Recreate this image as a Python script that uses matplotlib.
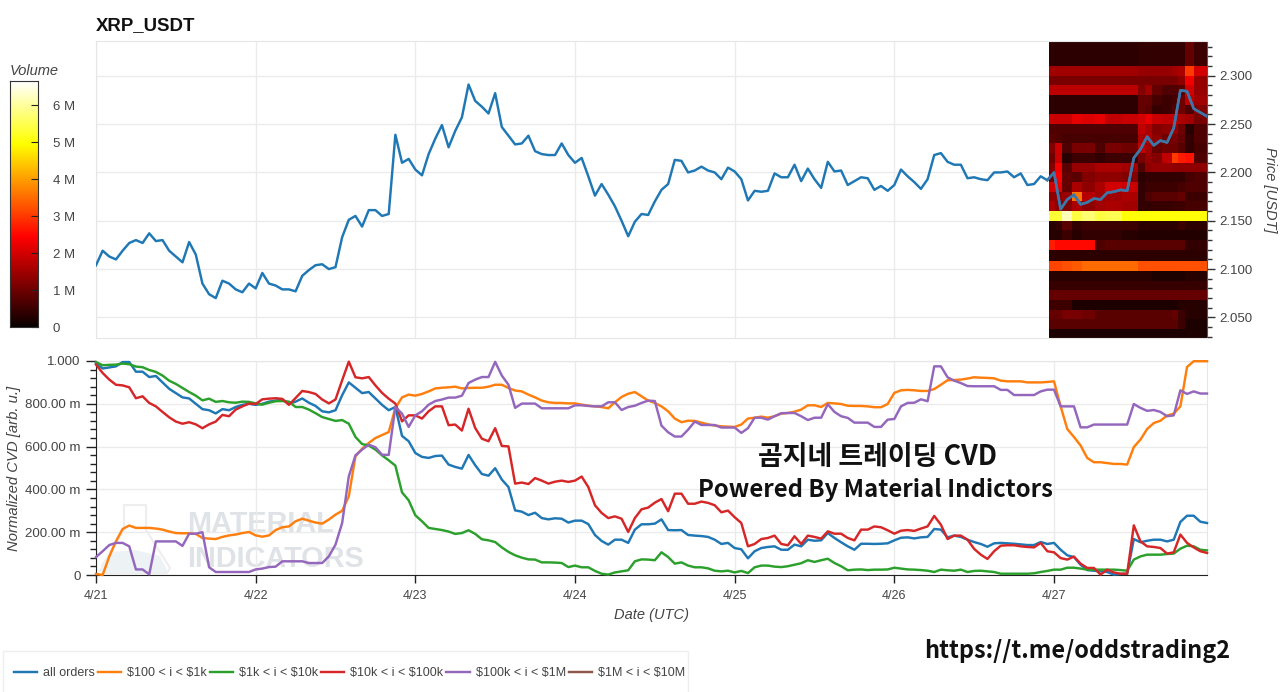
import numpy as np
import matplotlib
matplotlib.use("Agg")
import matplotlib.pyplot as plt
from matplotlib.patches import Polygon, Rectangle
from matplotlib.ticker import FuncFormatter, MultipleLocator, FixedLocator

plt.rcParams['font.family'] = ['Liberation Sans', 'DejaVu Sans']
plt.rcParams['text.parse_math'] = False

W, H = 1280, 692

price = [2.104,2.119,2.113,2.110,2.119,2.127,2.130,2.127,2.137,2.129,2.130,2.119,2.113,2.107,2.128,2.115,2.085,2.074,2.070,2.088,2.085,2.079,2.076,2.085,
2.080,2.096,2.085,2.083,2.079,2.079,2.077,2.093,2.099,2.104,2.105,2.100,2.102,2.133,2.151,2.155,2.144,2.161,2.161,2.155,2.157,2.239,2.210,2.214,
2.203,2.197,2.219,2.235,2.249,2.226,2.243,2.257,2.291,2.274,2.268,2.261,2.282,2.247,2.238,2.229,2.230,2.238,2.222,2.219,2.218,2.218,2.230,2.218,
2.210,2.215,2.196,2.176,2.188,2.177,2.165,2.150,2.134,2.149,2.157,2.156,2.170,2.182,2.188,2.213,2.212,2.200,2.202,2.206,2.202,2.200,2.193,2.205,
2.201,2.193,2.171,2.181,2.180,2.181,2.199,2.195,2.195,2.208,2.191,2.204,2.193,2.184,2.211,2.201,2.202,2.187,2.191,2.195,2.194,2.182,2.186,2.181,
2.187,2.203,2.196,2.190,2.183,2.193,2.218,2.220,2.211,2.208,2.208,2.194,2.195,2.193,2.192,2.200,2.200,2.201,2.195,2.199,2.187,2.188,2.196,2.192,
2.200,2.162,2.172,2.177,2.167,2.169,2.173,2.172,2.179,2.180,2.182,2.181,2.215,2.224,2.237,2.228,2.233,2.231,2.246,2.285,2.284,2.266,2.262,2.258]

all_orders = [.99,.965,.97,.975,.995,.995,.95,.95,.925,.93,.90,.87,.85,.83,.825,.80,.775,.77,.755,.775,.77,.785,.795,.80,
.795,.80,.81,.815,.82,.80,.81,.825,.805,.79,.765,.76,.77,.84,.90,.875,.85,.855,.825,.795,.77,.785,.65,.625,
.57,.552,.547,.556,.558,.516,.505,.497,.561,.513,.472,.464,.499,.446,.411,.302,.296,.280,.291,.266,.260,.265,.263,.245,
.254,.254,.238,.187,.159,.142,.165,.165,.150,.212,.237,.237,.240,.260,.210,.209,.210,.187,.184,.182,.178,.165,.145,.150,
.126,.120,.078,.111,.126,.131,.134,.118,.118,.142,.134,.165,.160,.162,.196,.173,.153,.134,.118,.146,.146,.145,.146,.148,
.162,.174,.176,.171,.176,.178,.215,.212,.176,.184,.178,.165,.154,.145,.132,.148,.150,.148,.146,.143,.140,.140,.154,.145,
.150,.118,.092,.084,.048,.023,.020,.017,.014,.002,.005,.006,.168,.153,.160,.165,.165,.157,.165,.248,.277,.277,.249,.243]

band_100_1k = [.005,0,.087,.157,.215,.231,.22,.22,.22,.217,.212,.203,.196,.195,.195,.192,.173,.17,.168,.178,.185,.189,.196,.201,
.185,.179,.185,.21,.223,.227,.251,.263,.254,.245,.24,.259,.282,.30,.368,.555,.59,.617,.64,.654,.668,.78,.83,.843,
.838,.846,.858,.872,.875,.877,.88,.872,.874,.875,.875,.88,.889,.889,.874,.862,.858,.843,.83,.815,.807,.804,.804,.802,
.802,.796,.791,.788,.785,.779,.807,.832,.847,.855,.835,.815,.804,.788,.765,.731,.714,.721,.72,.712,.704,.698,.695,.693,
.692,.703,.731,.735,.74,.735,.742,.754,.757,.763,.773,.793,.793,.785,.804,.802,.799,.791,.79,.79,.788,.784,.784,.799,
.851,.863,.865,.863,.86,.86,.869,.889,.91,.911,.913,.918,.924,.922,.921,.919,.908,.905,.905,.905,.90,.90,.90,.902,
.905,.788,.682,.645,.605,.547,.527,.527,.523,.519,.519,.516,.598,.633,.682,.71,.721,.745,.754,.788,.972,.999,.999,.999]

band_1k_10k = [.995,.98,.982,.983,.988,.985,.974,.971,.958,.949,.932,.908,.893,.874,.855,.838,.816,.824,.809,.813,.807,.805,.81,.809,
.802,.796,.805,.812,.813,.81,.785,.785,.773,.756,.738,.729,.72,.724,.707,.645,.612,.605,.586,.559,.536,.511,.386,.349,
.279,.251,.22,.215,.21,.203,.192,.196,.209,.192,.167,.162,.154,.129,.108,.092,.081,.073,.072,.059,.059,.058,.056,.037,
.044,.036,.036,.019,.006,.002,.012,.017,.022,.064,.073,.072,.069,.106,.084,.053,.059,.044,.036,.036,.031,.02,.017,.02,
.012,.019,.009,.036,.044,.044,.039,.037,.041,.048,.055,.069,.061,.069,.076,.056,.041,.022,.025,.026,.023,.025,.025,.026,
.034,.03,.026,.025,.023,.02,.014,.025,.022,.02,.025,.014,.019,.02,.017,.014,.006,.006,.006,.006,.006,.008,.014,.019,
.025,.025,.034,.034,.03,.025,.025,.025,.025,.025,.023,.02,.072,.087,.095,.095,.095,.098,.10,.123,.137,.134,.118,.115]

band_10k_100k = [.983,.944,.913,.889,.886,.877,.826,.835,.804,.788,.762,.737,.717,.707,.714,.704,.686,.704,.717,.748,.742,.773,.788,.801,
.799,.821,.824,.826,.823,.795,.827,.86,.855,.846,.82,.802,.82,.91,.997,.924,.919,.925,.886,.851,.824,.801,.718,.746,
.746,.731,.765,.788,.788,.70,.703,.675,.777,.687,.637,.625,.686,.603,.601,.427,.432,.425,.453,.441,.427,.436,.441,.435,
.441,.46,.411,.326,.29,.266,.274,.263,.201,.266,.307,.315,.338,.355,.298,.38,.38,.333,.333,.343,.337,.326,.293,.301,
.27,.243,.134,.145,.168,.173,.184,.145,.139,.181,.145,.184,.178,.17,.204,.193,.193,.173,.162,.212,.212,.227,.223,.209,
.193,.207,.21,.206,.217,.227,.276,.235,.168,.184,.184,.165,.122,.095,.075,.111,.137,.139,.139,.134,.131,.129,.15,.111,
.106,.079,.072,.086,.053,.033,.033,.002,.025,.012,.006,.006,.232,.157,.134,.131,.126,.10,.106,.189,.15,.129,.111,.103]

band_100k_1M = [.084,.111,.14,.15,.15,.134,.026,.026,.003,.157,.157,.157,.157,.136,.193,.193,.2,.036,.014,.014,.014,.014,.014,.014,
.026,.03,.037,.039,.064,.064,.064,.064,.056,.056,.056,.087,.142,.243,.461,.559,.586,.609,.597,.562,.561,.785,.754,.692,
.746,.765,.796,.813,.82,.829,.829,.838,.897,.913,.925,.925,.996,.932,.889,.781,.801,.801,.801,.779,.779,.779,.779,.779,
.793,.793,.79,.788,.788,.807,.807,.771,.785,.791,.804,.815,.813,.698,.667,.647,.647,.679,.717,.701,.701,.701,.689,.689,
.689,.664,.686,.735,.735,.726,.742,.756,.757,.757,.742,.724,.735,.735,.798,.762,.742,.734,.712,.712,.712,.692,.692,.726,
.729,.788,.804,.805,.821,.812,.975,.975,.924,.908,.897,.883,.882,.882,.882,.882,.865,.865,.841,.841,.841,.841,.858,.866,
.866,.788,.788,.788,.69,.69,.703,.703,.703,.703,.703,.703,.799,.781,.767,.771,.762,.742,.746,.863,.846,.858,.848,.848]

band_1M_10M = []

series_labels = ['all orders', '$100 < i < $1k', '$1k < i < $10k', '$10k < i < $100k', '$100k < i < $1M', '$1M < i < $10M']
series_colors = ['#1f77b4', '#ff7f0e', '#2ca02c', '#d62728', '#9467bd', '#8c564b']
day_labels = ['4/21', '4/22', '4/23', '4/24', '4/25', '4/26', '4/27']

heat_hours = [143.2,144.2,145.2,146.7,148.2,150.2,151.7,154.2,156.6,157.7,158.7,160.2,161.7,162.7,163.7,165,167]
heat_prices = [2.0287,2.038,2.048,2.058,2.068,2.078,2.088,2.098,2.108,2.12,2.13,2.14,2.15,2.16,2.17,2.18,2.19,2.20,2.21,2.22,2.23,2.24,2.25,2.26,2.27,2.28,2.29,2.30,2.31,2.336]
heat_volume = [  # millions, one row per price band from low to high
 [.2,.2,.2,.2,.2,.2,.2,.2,.2,.2,.2,.2,.2,.2,.2,.2],
 [.8,.8,.8,.8,.8,.8,.8,.8,.8,.8,.8,.8,.8,.5,.2,.2],
 [.9,.9,1.1,1.1,1.0,.8,.8,.8,.8,.8,.8,.8,.9,.5,.3,.3],
 [.5,.5,.5,.2,.2,.2,.2,.2,.2,.2,.2,.2,.2,.3,.3,.3],
 [.9,.9,.9,.9,.9,.9,.9,.9,.9,.9,.9,.9,.9,.9,.9,.9],
 [.45,.45,.45,.45,.45,.45,.45,.45,.45,.45,.45,.45,.45,.45,.45,.45],
 [.3,.3,.3,.3,.3,.3,.3,.3,.3,.3,.2,.2,.2,.2,.3,.3],
 [3.1,3.1,3.2,3.3,3.5,3.5,3.5,3.5,3.2,3.2,3.2,3.2,3.2,3.2,3.2,3.2],
 [.35,.35,.35,.35,.35,.35,.35,.35,.35,.35,.35,.35,.35,.35,.35,.35],
 [2.7,2.5,2.5,2.5,2.5,.7,.8,.8,.8,.8,.8,.8,.8,.8,.4,.4],
 [.3,.3,.5,.3,.4,.4,.4,.3,.25,.25,.25,.25,.25,.25,.25,.25],
 [.3,.4,.8,.4,.5,.5,.5,.5,.35,.35,.35,.35,.35,.5,.35,.35],
 [5.3,5.3,6.2,5.4,5.7,5.4,5.5,5.0,5.0,5.0,5.0,5.0,5.0,5.0,5.0,5.0],
 [1.6,1.3,1.2,1.6,1.3,1.5,1.6,1.5,.4,.4,.45,.45,.5,.5,.6,.6],
 [1.3,1.3,1.4,3.6,1.7,1.5,1.5,1.6,.4,.7,.8,.8,.8,.9,.5,.5],
 [2.0,2.2,.9,1.6,1.3,1.6,2.0,1.9,.4,.5,.5,.5,.5,.6,.7,.7],
 [1.0,2.4,.9,.8,1.2,1.3,1.3,1.2,.35,.4,.4,.4,.4,.4,.6,.7],
 [1.2,2.3,.8,1.4,1.4,1.6,1.6,1.5,.7,1.3,1.4,1.4,1.3,1.3,1.3,1.3],
 [1.0,1.9,.3,.5,.5,.4,.5,.5,1.1,1.4,1.2,1.8,3.0,2.7,2.6,.7],
 [1.2,1.9,.7,1.1,1.1,.7,1.1,1.0,1.8,1.5,.9,1.0,1.0,.8,.4,.6],
 [.8,.7,.6,.6,.6,.6,.6,.6,1.6,1.7,1.3,1.0,1.1,.9,.4,.7],
 [.7,.7,.7,.7,.7,.7,.7,.7,1.8,1.6,1.2,1.3,1.4,1.0,.3,.7],
 [1.9,1.9,1.9,2.2,2.1,2.2,1.8,1.9,2.0,2.2,1.9,1.8,1.8,1.6,1.5,1.1],
 [.35,.35,.35,.35,.35,.35,.35,.35,.9,.8,.45,.5,.7,1.0,.7,1.2],
 [.35,.35,.35,.35,.35,.35,.35,.35,.9,.9,.6,.5,.6,1.0,1.8,1.5],
 [1.75,1.75,1.75,1.75,1.75,1.75,1.75,1.75,1.2,1.5,.9,.7,.7,.8,2.0,1.4],
 [1.1,1.1,1.1,1.1,1.1,1.1,1.1,1.1,1.1,1.1,1.1,1.1,1.1,1.3,2.3,1.4],
 [1.5,1.5,1.5,1.5,1.5,1.5,1.5,1.5,1.4,1.4,1.4,1.4,1.5,1.6,3.0,2.0],
 [.35,.35,.35,.35,.35,.35,.35,.35,.4,.4,.4,.4,.4,.4,.9,.5]]
VMAX = 6.65


def axbox(l, t, r, b):
    return [l / W, 1 - b / H, (r - l) / W, (b - t) / H]


def figxy(pts):
    return [(x / W, 1 - y / H) for x, y in pts]


txt = '#444444'
grid = '#ebebeb'
fig = plt.figure(figsize=(12.8, 6.92), dpi=100, facecolor='white')

hours = np.arange(168)
day_ticks = [24 * i for i in range(7)]

# ---------- watermark (below the axes) ----------
flask = [(124, 505), (146, 505), (146, 530), (170, 568), (167, 573), (106, 573), (102, 566), (124, 530)]
liquid = [(112, 552), (135, 550), (160, 556), (168, 572), (106, 573), (98, 572)]
fig.add_artist(Polygon(figxy(flask), closed=True, transform=fig.transFigure, facecolor='none', edgecolor='#eeeeee', lw=1.5, zorder=-3))
fig.add_artist(Polygon(figxy(liquid), closed=True, transform=fig.transFigure, facecolor='#edf3f4', edgecolor='none', zorder=-3))
for s, y in [('MATERIAL', 524), ('INDICATORS', 559)]:
    fig.text(187 / W, 1 - y / H, s, fontweight='bold', fontsize=20.8, color='#dfe2e6', ha='left', va='center', zorder=-2,
             family='Liberation Sans')

# ---------- price panel ----------
ax1 = fig.add_axes(axbox(96, 41, 1207, 338))
ax1.set_xlim(0, 167)
ax1.set_ylim(2.0287, 2.336)
ax1.grid(True, color=grid, lw=1.0, zorder=0)
ax1.set_axisbelow(True)
ax1.pcolormesh(heat_hours, heat_prices, np.array(heat_volume), cmap='hot', vmin=0, vmax=VMAX, zorder=1, antialiased=False)
ax1.plot(hours, price, color='#1f77b4', lw=1.75, zorder=3, solid_joinstyle='round')
ax1.plot(hours[143:], price[143:], color='#3f76a6', lw=1.9, zorder=4)
ax1.xaxis.set_major_locator(FixedLocator(day_ticks))
ax1.tick_params(axis='x', length=0, labelbottom=False)
ax1.yaxis.tick_right()
ax1.yaxis.set_major_locator(MultipleLocator(0.05))
ax1.yaxis.set_minor_locator(MultipleLocator(0.01))
ax1.yaxis.set_major_formatter(FuncFormatter(lambda v, p: f'{v:.3f}'))
ax1.tick_params(axis='y', which='major', length=6, width=1, color='#333333', labelcolor=txt, labelsize=9.5, pad=3)
ax1.tick_params(axis='y', which='minor', length=3.5, width=1, color='#333333')
for s in ['left', 'top', 'bottom']:
    ax1.spines[s].set_color('#e6e6e6')
ax1.spines['right'].set_color('#555555')
ax1.patch.set_alpha(0)
fig.text(1270 / W, 1 - 190 / H, 'Price [USDT]', rotation=270, style='italic', color=txt, fontsize=10.5, ha='center', va='center')
fig.text(96 / W, 1 - 26 / H, 'XRP_USDT', fontweight='bold', fontsize=13.4, color='#111111', ha='left', va='center')

# ---------- colour bar ----------
cax = fig.add_axes(axbox(10, 81, 38, 327))
cax.imshow(np.linspace(0, VMAX, 256).reshape(-1, 1), origin='lower', aspect='auto', cmap='hot', vmin=0, vmax=VMAX,
           extent=[0, 1, 0, VMAX])
cax.set_xticks([])
cax.yaxis.tick_right()
cax.set_yticks(range(7))
cax.set_yticklabels(['0', '1 M', '2 M', '3 M', '4 M', '5 M', '6 M'], ha='left')
cax.tick_params(axis='y', length=5, direction='in', color='#222222', labelcolor=txt, labelsize=9.5, pad=10.5)
for s in cax.spines.values():
    s.set_color('#333333')
fig.text(10 / W, 1 - 71 / H, 'Volume', style='italic', color=txt, fontsize=10.5, ha='left', va='center')

# ---------- CVD panel ----------
ax2 = fig.add_axes(axbox(96, 361, 1207, 575))
ax2.set_xlim(0, 167)
ax2.set_ylim(0, 1.0)
ax2.grid(True, color=grid, lw=1.0, zorder=0)
ax2.set_axisbelow(True)
ax2.patch.set_alpha(0)
cvd = [all_orders, band_100_1k, band_1k_10k, band_10k_100k, band_100k_1M, band_1M_10M]
for vals, lab, col in zip(cvd, series_labels, series_colors):
    ax2.plot(hours[:len(vals)], vals, color=col, lw=1.75, label=lab, zorder=4, clip_on=False)
ax2.xaxis.set_major_locator(FixedLocator(day_ticks))
ax2.set_xticklabels(day_labels)
ax2.yaxis.set_major_locator(MultipleLocator(0.2))
ax2.yaxis.set_minor_locator(MultipleLocator(0.04))


def fmt(v, p):
    if v < 1e-6:
        return '0'
    if v > 0.999:
        return '1.000'
    return f'{v * 1000:.2f} m'


ax2.yaxis.set_major_formatter(FuncFormatter(fmt))
ax2.tick_params(axis='y', which='major', length=7, width=1, color='#222222', labelcolor=txt, labelsize=9.6, pad=4)
ax2.tick_params(axis='y', which='minor', length=4, width=1, color='#222222')
ax2.tick_params(axis='x', length=6, width=1, color='#222222', labelcolor=txt, labelsize=9, pad=5)
for s in ['top', 'right']:
    ax2.spines[s].set_color('#e6e6e6')
for s in ['left', 'bottom']:
    ax2.spines[s].set_color('#222222')
fig.text(14 / W, 1 - 468 / H, 'Normalized CVD [arb. u.]', rotation=90, style='italic', color=txt, fontsize=10.7, ha='center', va='center')
fig.text(651 / W, 1 - 615 / H, 'Date (UTC)', style='italic', color=txt, fontsize=10.5, ha='center', va='center')

# ---------- overlays ----------
korean = ['Noto Sans CJK KR', 'DejaVu Sans']
fig.text(878 / W, 1 - 457 / H, '곰지네 트레이딩 CVD', family=korean, fontweight='bold', fontsize=19.4, color='#111111', ha='center', va='center', zorder=10)
fig.text(875 / W, 1 - 490 / H, 'Powered By Material Indictors', family=korean, fontweight='bold', fontsize=17.2, color='#111111', ha='center', va='center', zorder=10)
fig.text(1077 / W, 1 - 651 / H, 'https://t.me/oddstrading2', family=korean, fontweight='bold', fontsize=16.9, color='#111111', ha='center', va='center', zorder=10)

# ---------- legend ----------
fig.add_artist(Rectangle((3 / W, 1 - 696 / H), 685 / W, 45 / H, transform=fig.transFigure, facecolor='white', edgecolor='#eeeeee', lw=1, zorder=1))
leg = fig.legend(*ax2.get_legend_handles_labels(), loc='center left', bbox_to_anchor=(14 / W, 1 - 673 / H),
                 ncol=6, frameon=False, fontsize=9.0, labelcolor=txt,
                 handlelength=1.85, handletextpad=0.48, columnspacing=0.24, borderaxespad=0, borderpad=0)
leg.set_zorder(2)

fig.savefig('out.png', dpi=100)
